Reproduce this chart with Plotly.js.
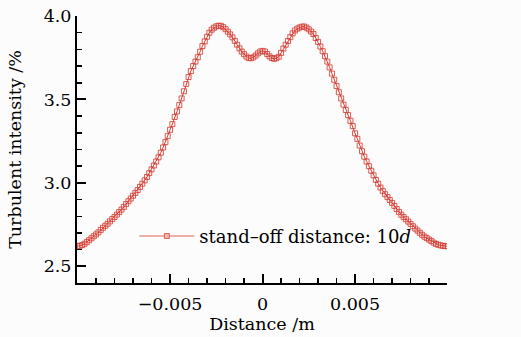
<!DOCTYPE html>
<html>
<head>
<meta charset="utf-8">
<script src="https://cdn.plot.ly/plotly-3.0.1.min.js"></script>
<style>html,body{margin:0;padding:0;background:#fcfcfc;}#chart{width:521px;height:337px;}</style>
</head>
<body>
<div id="chart"></div>
<script>
// Grid of the radial positions (m): uniform step from xStart
const xStart = -0.01;
const xStep = 0.000125;
// Turbulent intensity (%) at each grid position
const intensity = [
 2.620,2.623,2.627,2.635,2.645,2.656,2.668,2.680,2.691,2.703,
 2.718,2.731,2.743,2.755,2.769,2.783,2.796,2.810,2.825,2.840,
 2.856,2.873,2.890,2.906,2.923,2.940,2.957,2.976,2.995,3.015,
 3.035,3.058,3.081,3.104,3.128,3.153,3.181,3.212,3.244,3.280,
 3.318,3.352,3.395,3.428,3.466,3.506,3.549,3.592,3.634,3.670,
 3.700,3.727,3.753,3.786,3.820,3.848,3.876,3.900,3.918,3.930,
 3.938,3.942,3.941,3.933,3.921,3.906,3.890,3.872,3.851,3.828,
 3.806,3.787,3.771,3.757,3.748,3.747,3.752,3.763,3.776,3.787,
 3.791,3.787,3.772,3.758,3.748,3.744,3.747,3.756,3.779,3.805,
 3.828,3.850,3.873,3.896,3.913,3.924,3.931,3.936,3.937,3.930,
 3.920,3.907,3.892,3.868,3.845,3.817,3.789,3.759,3.727,3.692,
 3.655,3.618,3.580,3.543,3.506,3.469,3.437,3.406,3.372,3.340,
 3.297,3.264,3.224,3.190,3.157,3.128,3.100,3.073,3.045,3.018,
 2.995,2.972,2.952,2.932,2.915,2.898,2.880,2.862,2.843,2.826,
 2.809,2.795,2.782,2.768,2.754,2.740,2.726,2.714,2.701,2.689,
 2.678,2.669,2.660,2.651,2.642,2.634,2.629,2.625,2.623,2.621,
 2.620
];
const distance = intensity.map((_, i) => +(xStart + i * xStep).toFixed(6));
const seriesName = 'stand\u2013off distance: 10<i>d</i>';
const xTickVals = [-0.005, 0, 0.005];
const xTickText = ['\u22120.005', '0', '0.005'];
const yTickVals = [2.5, 3.0, 3.5, 4.0];
const yTickText = ['2.5', '3.0', '3.5', '4.0'];

const font = {family: 'DejaVu Serif, serif', size: 17.5, color: '#000'};
const legendFont = {family: 'DejaVu Serif, serif', size: 18, color: '#000'};
const red = 'rgb(214,62,52)';

const traces = [
  {
    x: distance, y: intensity, type: 'scatter', mode: 'lines+markers',
    line: {color: red, width: 1},
    marker: {symbol: 'square-open', size: 5, color: 'rgba(214,62,52,0.85)', line: {width: 1}},
    showlegend: false, hoverinfo: 'skip'
  },
  {
    x: [null], y: [null], type: 'scatter', mode: 'lines+markers', name: seriesName,
    line: {color: 'rgba(222,110,100,0.7)', width: 1.5},
    marker: {symbol: 'square', size: 5, color: 'rgba(240,180,175,1)', line: {width: 1, color: 'rgba(215,90,80,0.9)'}},
    showlegend: true
  }
];

const layout = {
  width: 521, height: 337,
  margin: {l: 77, r: 74, t: 16, b: 54},
  paper_bgcolor: '#fcfcfc', plot_bgcolor: '#fcfcfc',
  font: font,
  showlegend: true,
  legend: {x: 0.155, y: 0.175, xanchor: 'left', yanchor: 'middle', bgcolor: 'rgba(0,0,0,0)',
           font: legendFont, itemwidth: 55, tracegroupgap: 0},
  xaxis: {
    range: [-0.01003, 0.00997], showline: true, linewidth: 2, linecolor: '#000',
    showgrid: false, zeroline: false,
    ticks: 'inside', ticklen: 9, tickwidth: 2, tickcolor: '#000',
    tickmode: 'array', tickvals: xTickVals, ticktext: xTickText,
    ticklabelstandoff: 4,
    minor: {tickmode: 'linear', tick0: 0, dtick: 0.001, ticks: 'inside', ticklen: 5, tickwidth: 1.5, tickcolor: '#000'},
    tickfont: font,
    title: {text: 'Distance /m', font: font, standoff: 4}
  },
  yaxis: {
    range: [2.4, 4.0], showline: true, linewidth: 2, linecolor: '#000',
    showgrid: false, zeroline: false,
    ticks: 'inside', ticklen: 9, tickwidth: 2, tickcolor: '#000',
    tickmode: 'array', tickvals: yTickVals, ticktext: yTickText,
    minor: {tickmode: 'linear', tick0: 0, dtick: 0.1, ticks: 'inside', ticklen: 5, tickwidth: 1.5, tickcolor: '#000'},
    tickfont: font,
    title: {text: 'Turbulent intensity /%', font: font, standoff: 18}
  }
};

Plotly.newPlot('chart', traces, layout, {staticPlot: true, displayModeBar: false});
</script>
</body>
</html>
